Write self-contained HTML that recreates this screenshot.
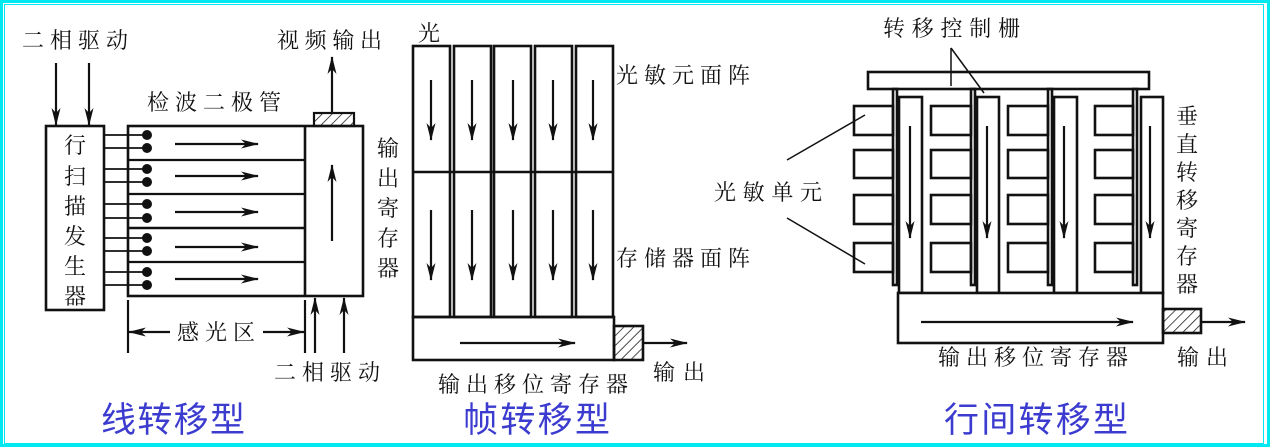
<!DOCTYPE html>
<html><head><meta charset="utf-8"><style>
html,body{margin:0;padding:0;background:#fff}
svg{display:block}
.t{font-family:"Liberation Serif","Noto Serif CJK SC","Noto Sans CJK SC",serif;font-size:22px;fill:#111}
.b{font-family:"Liberation Sans","Noto Sans CJK SC",sans-serif;font-size:35px;fill:#3b3bd0}
</style></head><body>
<svg width="1271" height="448" viewBox="0 0 1271 448" xmlns="http://www.w3.org/2000/svg">
<defs>
<marker id="a" viewBox="0 0 18 9" refX="17" refY="4.5" markerWidth="18" markerHeight="9" markerUnits="userSpaceOnUse" orient="auto"><path d="M0,0 L18,4.5 L0,9 L5,4.5 Z" fill="#111"/></marker>
<pattern id="h" width="7" height="7" patternUnits="userSpaceOnUse" patternTransform="rotate(45)"><line x1="0" y1="0" x2="0" y2="7" stroke="#111" stroke-width="1.5"/></pattern>
</defs>
<rect x="1.5" y="1.5" width="1267" height="444" fill="none" stroke="#00e8f0" stroke-width="3"/>
<rect x="4.5" y="4.5" width="1259" height="439" fill="none" stroke="#00e8f0" stroke-width="1"/>

<g stroke="#111" stroke-width="2.2" fill="none">
<!-- left panel -->
<line x1="56" y1="63" x2="56" y2="125" marker-end="url(#a)"/>
<line x1="89" y1="63" x2="89" y2="125" marker-end="url(#a)"/>
<rect x="46" y="126" width="58" height="184" stroke-width="2.6"/>
<rect x="128" y="126" width="235" height="170" stroke-width="2.6"/>
<line x1="305" y1="126" x2="305" y2="296" stroke-width="2.6"/>
<line x1="128" y1="160" x2="305" y2="160"/>
<line x1="128" y1="194" x2="305" y2="194"/>
<line x1="128" y1="228" x2="305" y2="228" stroke-width="2.6"/>
<line x1="128" y1="262" x2="305" y2="262"/>
<g stroke-width="1.8">
<line x1="104" y1="135" x2="147" y2="135"/><line x1="104" y1="148" x2="147" y2="148"/>
<line x1="104" y1="169" x2="147" y2="169"/><line x1="104" y1="182" x2="147" y2="182"/>
<line x1="104" y1="204" x2="147" y2="204"/><line x1="104" y1="218" x2="147" y2="218"/>
<line x1="104" y1="238" x2="147" y2="238"/><line x1="104" y1="251" x2="147" y2="251"/>
<line x1="104" y1="272" x2="147" y2="272"/><line x1="104" y1="285" x2="147" y2="285"/>
</g>
<line x1="175" y1="144" x2="258" y2="144" marker-end="url(#a)"/>
<line x1="175" y1="176" x2="258" y2="176" marker-end="url(#a)"/>
<line x1="175" y1="212" x2="258" y2="212" marker-end="url(#a)"/>
<line x1="175" y1="247" x2="258" y2="247" marker-end="url(#a)"/>
<line x1="175" y1="279" x2="258" y2="279" marker-end="url(#a)"/>
<line x1="332" y1="241" x2="332" y2="165" marker-end="url(#a)"/>
<rect x="314" y="113" width="40" height="13" fill="url(#h)"/>
<line x1="332" y1="113" x2="332" y2="57" marker-end="url(#a)"/>
<line x1="128" y1="300" x2="128" y2="353"/>
<line x1="305" y1="300" x2="305" y2="353"/>
<line x1="170" y1="332" x2="129" y2="332" marker-end="url(#a)"/>
<line x1="263" y1="332" x2="304" y2="332" marker-end="url(#a)"/>
<line x1="315" y1="353" x2="315" y2="298" marker-end="url(#a)"/>
<line x1="344" y1="353" x2="344" y2="298" marker-end="url(#a)"/>

<!-- middle panel -->
<g stroke-width="2.6">
<rect x="413" y="46" width="37" height="271"/><rect x="454" y="46" width="37" height="271"/>
<rect x="494" y="46" width="37" height="271"/><rect x="535" y="46" width="37" height="271"/>
<rect x="576" y="46" width="37" height="271"/>
<line x1="413" y1="172" x2="613" y2="172"/>
<rect x="413" y="317" width="201" height="43"/>
</g>
<g>
<line x1="431" y1="80" x2="431" y2="140" marker-end="url(#a)"/><line x1="472" y1="80" x2="472" y2="140" marker-end="url(#a)"/>
<line x1="513" y1="80" x2="513" y2="140" marker-end="url(#a)"/><line x1="553" y1="80" x2="553" y2="140" marker-end="url(#a)"/>
<line x1="593" y1="80" x2="593" y2="140" marker-end="url(#a)"/>
<line x1="431" y1="210" x2="431" y2="280" marker-end="url(#a)"/><line x1="472" y1="210" x2="472" y2="280" marker-end="url(#a)"/>
<line x1="513" y1="210" x2="513" y2="280" marker-end="url(#a)"/><line x1="553" y1="210" x2="553" y2="280" marker-end="url(#a)"/>
<line x1="593" y1="210" x2="593" y2="280" marker-end="url(#a)"/>
</g>
<line x1="460" y1="343" x2="575" y2="343" marker-end="url(#a)"/>
<rect x="614" y="326" width="29" height="34" fill="url(#h)" stroke-width="2.6"/>
<line x1="643" y1="343" x2="687" y2="343" marker-end="url(#a)"/>

<!-- right panel -->
<rect x="868" y="72" width="281" height="17" stroke-width="2.6"/>
<line x1="951" y1="48" x2="951" y2="86" stroke-width="1.5"/>
<line x1="951" y1="48" x2="984" y2="93" stroke-width="1.5"/>
<line x1="787" y1="160" x2="865" y2="115" stroke-width="1.5"/>
<line x1="787" y1="218" x2="865" y2="264" stroke-width="1.5"/>
<g stroke-width="2.6">
<rect x="893" y="89" width="4" height="196"/><rect x="971" y="89" width="4" height="196"/>
<rect x="1048" y="89" width="4" height="196"/><rect x="1133" y="89" width="4" height="196"/>
<rect x="899" y="97" width="23" height="196"/><rect x="977" y="97" width="22" height="196"/>
<rect x="1054" y="97" width="23" height="196"/><rect x="1141" y="97" width="22" height="196"/>
<rect x="854" y="106" width="39" height="29"/><rect x="854" y="150" width="39" height="28"/>
<rect x="854" y="195" width="39" height="29"/><rect x="854" y="243" width="39" height="29"/>
<rect x="931" y="106" width="40" height="29"/><rect x="931" y="150" width="40" height="28"/>
<rect x="931" y="195" width="40" height="29"/><rect x="931" y="243" width="40" height="29"/>
<rect x="1008" y="106" width="40" height="29"/><rect x="1008" y="150" width="40" height="28"/>
<rect x="1008" y="195" width="40" height="29"/><rect x="1008" y="243" width="40" height="29"/>
<rect x="1095" y="106" width="38" height="29"/><rect x="1095" y="150" width="38" height="28"/>
<rect x="1095" y="195" width="38" height="29"/><rect x="1095" y="243" width="38" height="29"/>
<rect x="898" y="293" width="265" height="50" fill="#fff"/>
<rect x="1163" y="309" width="38" height="24" fill="url(#h)"/>
</g>
<line x1="910" y1="126" x2="910" y2="238" marker-end="url(#a)"/>
<line x1="987" y1="126" x2="987" y2="238" marker-end="url(#a)"/>
<line x1="1064" y1="126" x2="1064" y2="238" marker-end="url(#a)"/>
<line x1="1150" y1="126" x2="1150" y2="238" marker-end="url(#a)"/>
<line x1="921" y1="322" x2="1133" y2="322" marker-end="url(#a)"/>
<line x1="1201" y1="322" x2="1245" y2="322" marker-end="url(#a)"/>
</g>
<g fill="#111">
<circle cx="147" cy="135" r="5"/><circle cx="147" cy="148" r="5"/><circle cx="147" cy="169" r="5"/><circle cx="147" cy="182" r="5"/>
<circle cx="147" cy="204" r="5"/><circle cx="147" cy="218" r="5"/><circle cx="147" cy="238" r="5"/><circle cx="147" cy="251" r="5"/>
<circle cx="147" cy="272" r="5"/><circle cx="147" cy="285" r="5"/>
</g>

<!-- text -->
<text class="t" x="22" y="48" textLength="106">二相驱动</text>
<text class="t" x="277" y="48" textLength="105">视频输出</text>
<text class="t" x="147" y="110" textLength="134">检波二极管</text>
<g class="t" text-anchor="middle">
<text x="75" y="153">行</text><text x="75" y="184">扫</text><text x="75" y="214">描</text>
<text x="75" y="244">发</text><text x="75" y="274">生</text><text x="75" y="304">器</text>
<text x="388" y="156">输</text><text x="388" y="186">出</text><text x="388" y="216">寄</text>
<text x="388" y="246">存</text><text x="388" y="276">器</text>
<text x="1187" y="124">垂</text><text x="1187" y="152">直</text><text x="1187" y="180">转</text>
<text x="1187" y="208">移</text><text x="1187" y="236">寄</text><text x="1187" y="264">存</text><text x="1187" y="292">器</text>
</g>
<text class="t" x="177" y="340" textLength="78">感光区</text>
<text class="t" x="274" y="380" textLength="106">二相驱动</text>
<text class="b" x="101" y="432" textLength="144">线转移型</text>

<text class="t" x="418" y="41">光</text>
<text class="t" x="616" y="83" textLength="134">光敏元面阵</text>
<text class="t" x="616" y="266" textLength="134">存储器面阵</text>
<text class="t" x="653" y="380" textLength="52">输出</text>
<text class="t" x="438" y="392" textLength="190">输出移位寄存器</text>
<text class="b" x="463" y="432" textLength="147">帧转移型</text>

<text class="t" x="883" y="36" textLength="137">转移控制栅</text>
<text class="t" x="714" y="200" textLength="108">光敏单元</text>
<text class="t" x="938" y="365" textLength="190">输出移位寄存器</text>
<text class="t" x="1177" y="365" textLength="51">输出</text>
<text class="b" x="944" y="432" textLength="184">行间转移型</text>
</svg>
</body></html>
